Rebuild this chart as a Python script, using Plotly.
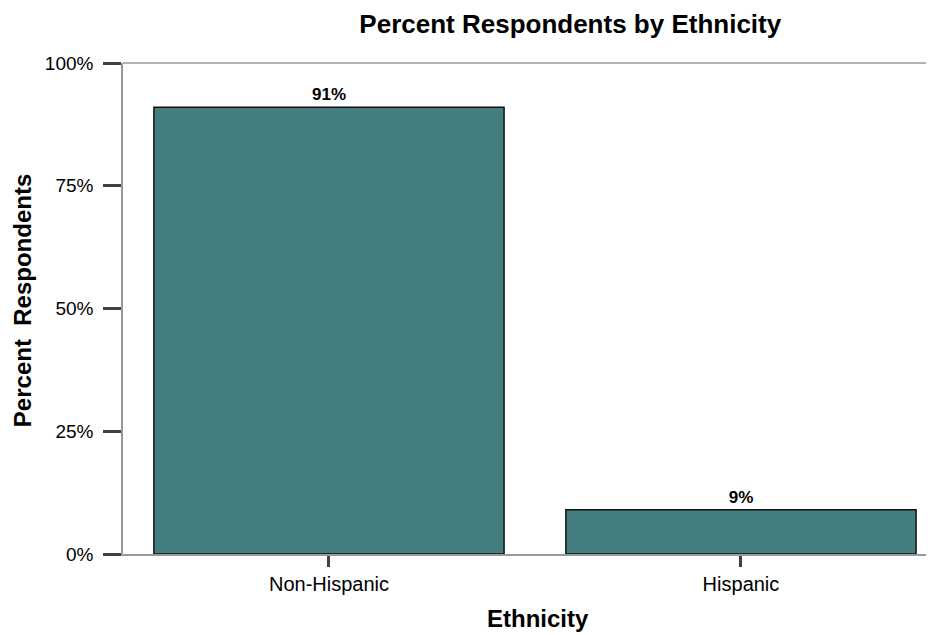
import plotly.graph_objects as go

categories = ["Non-Hispanic", "Hispanic"]
percents = [91, 9]
labels = ["91%", "9%"]
tick_vals = [0, 25, 50, 75, 100]
tick_text = ["0%", "25%", "50%", "75%", "100%"]

FONT = "Liberation Sans, Arial, sans-serif"

fig = go.Figure()
fig.add_trace(go.Bar(
    x=[0, 1], y=percents, width=0.85,
    marker=dict(color="#457E7E", line=dict(color="#111111", width=1.5)),
    text=labels, textposition="outside", cliponaxis=False,
    texttemplate="<b>%{text}</b>",
    textfont=dict(family=FONT, size=17, color="#000000"),
))

fig.update_layout(
    width=934, height=635,
    margin=dict(l=115, r=0, t=55, b=89),
    plot_bgcolor="white", paper_bgcolor="white",
    showlegend=False,
    font=dict(family=FONT, color="#000000"),
    title=dict(text="<b>Percent Respondents by Ethnicity</b>", x=0.602, xanchor="center",
               y=0.975, yanchor="middle", font=dict(size=26)),
    xaxis=dict(
        range=[-0.5, 1.488], tickvals=[0, 1], ticktext=categories,
        ticks="outside", ticklen=11, tickwidth=3, tickcolor="#404040",
        showline=True, linecolor="#999999", linewidth=1.5,
        showgrid=False, zeroline=False,
        tickfont=dict(size=20),
    ),
    yaxis=dict(
        range=[0, 100], tickvals=tick_vals, ticktext=tick_text,
        ticks="outside", ticklen=18, tickwidth=3, tickcolor="#404040",
        showline=True, linecolor="#999999", linewidth=1.5,
        showgrid=False, zeroline=False, ticklabelstandoff=6,
        tickfont=dict(size=19),
    ),
    annotations=[
        dict(text="<b>Ethnicity</b>", xref="paper", yref="paper", x=0.507, y=0,
             xanchor="center", yanchor="middle", yshift=-64, showarrow=False,
             font=dict(size=24)),
        dict(text="<b>Percent  Respondents</b>", xref="paper", yref="paper", x=0, y=0.515,
             xanchor="center", yanchor="middle", xshift=-101, textangle=-90,
             showarrow=False, font=dict(size=24)),
    ],
)
fig.add_shape(type="line", xref="paper", yref="paper", x0=0, x1=1, y0=1, y1=1,
              line=dict(color="#999999", width=1.5))

fig.write_html("out.html")
